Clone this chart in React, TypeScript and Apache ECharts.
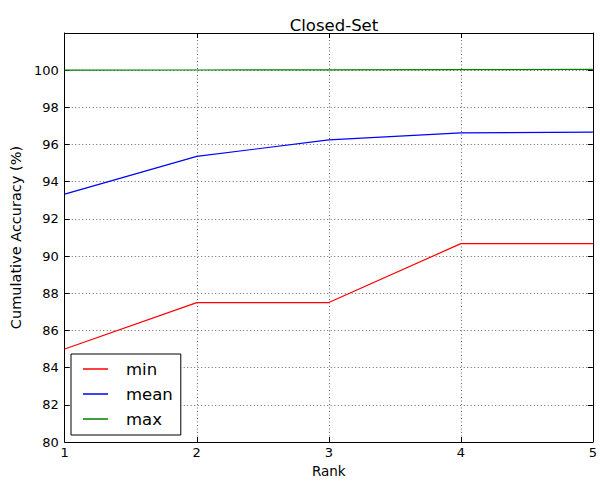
import React, { useEffect, useRef } from "react";
import * as echarts from "echarts";

const ranks = [1, 2, 3, 4, 5];
const minValues = [85.0, 87.5, 87.5, 90.67, 90.67];
const meanValues = [93.33, 95.36, 96.25, 96.63, 96.67];
const maxValues = [100.0, 100.01, 100.02, 100.03, 100.04];
const seriesNames = ["min", "mean", "max"];
const seriesColors = ["#ff0000", "#0000ff", "#008000"];

const FONT = "DejaVu Sans";

export default function App() {
  const ref = useRef<HTMLDivElement>(null);
  useEffect(() => {
    if (!ref.current) return;
    const chart = echarts.init(ref.current, null, { renderer: "svg" });
    const toPairs = (vals: number[]) => ranks.map((r, i) => [r, vals[i]]);
    const allData = [minValues, meanValues, maxValues];
    const tickStyle = { show: true, inside: true, length: 5, lineStyle: { color: "#000", width: 1 } };
    const split = { show: true, lineStyle: { color: "#666", type: [1, 2.5] as any, width: 1 } };
    chart.setOption({
      animation: false,
      backgroundColor: "#fff",
      textStyle: { fontFamily: FONT },
      title: {
        text: "Closed-Set",
        left: 329,
        textAlign: "center",
        top: 12,
        textStyle: { fontFamily: FONT, fontSize: 16.5, fontWeight: "normal", color: "#000" },
      },
      grid: { left: 63, right: 5, top: 33, bottom: 40, containLabel: false },
      legend: {
        orient: "vertical",
        left: 71,
        top: 354,
        backgroundColor: "#fff",
        borderColor: "#000",
        borderWidth: 1,
        borderRadius: 0,
        padding: [5, 8, 6, 12],
        icon: "rect",
        itemWidth: 25,
        itemHeight: 1.5,
        itemGap: 5,
        data: seriesNames,
        textStyle: { fontFamily: FONT, fontSize: 16.5, color: "#000", lineHeight: 20, padding: [0, 0, 0, 13] },
      },
      xAxis: [
        {
          type: "value",
          min: 1,
          max: 5,
          interval: 1,
          name: "Rank",
          nameLocation: "middle",
          nameGap: 22,
          nameTextStyle: { fontFamily: FONT, fontSize: 13.5, color: "#000" },
          axisLine: { show: true, lineStyle: { color: "#000", width: 1 } },
          axisTick: tickStyle,
          axisLabel: { fontFamily: FONT, fontSize: 13, color: "#000", margin: 4, showMaxLabel: true, showMinLabel: true },
          splitLine: split,
        },
        {
          type: "value",
          position: "top",
          min: 1,
          max: 5,
          interval: 1,
          axisLine: { show: true, lineStyle: { color: "#000", width: 1 } },
          axisTick: tickStyle,
          axisLabel: { show: false },
          splitLine: { show: false },
        },
      ],
      yAxis: [
        {
          type: "value",
          min: 80,
          max: 102,
          interval: 2,
          name: "Cumulative Accuracy (%)",
          nameLocation: "middle",
          nameGap: 35,
          nameTextStyle: { fontFamily: FONT, fontSize: 14.5, color: "#000" },
          axisLine: { show: true, lineStyle: { color: "#000", width: 1 } },
          axisTick: tickStyle,
          axisLabel: {
            fontFamily: FONT,
            fontSize: 13,
            color: "#000",
            margin: 6,
            formatter: (v: number) => (v >= 102 ? "" : String(v)),
          },
          splitLine: split,
        },
        {
          type: "value",
          position: "right",
          min: 80,
          max: 102,
          interval: 2,
          axisLine: { show: true, lineStyle: { color: "#000", width: 1 } },
          axisTick: tickStyle,
          axisLabel: { show: false },
          splitLine: { show: false },
        },
      ],
      series: seriesNames.map((name, i) => ({
        name,
        type: "line",
        xAxisIndex: 0,
        yAxisIndex: 0,
        data: toPairs(allData[i]),
        symbol: "none",
        lineStyle: { color: seriesColors[i], width: 1.2 },
        itemStyle: { color: seriesColors[i] },
      })),
    });
    return () => chart.dispose();
  }, []);
  return (
    <div
      ref={ref}
      style={{ position: "absolute", left: 0, top: 0, width: 600, height: 483 }}
    />
  );
}
